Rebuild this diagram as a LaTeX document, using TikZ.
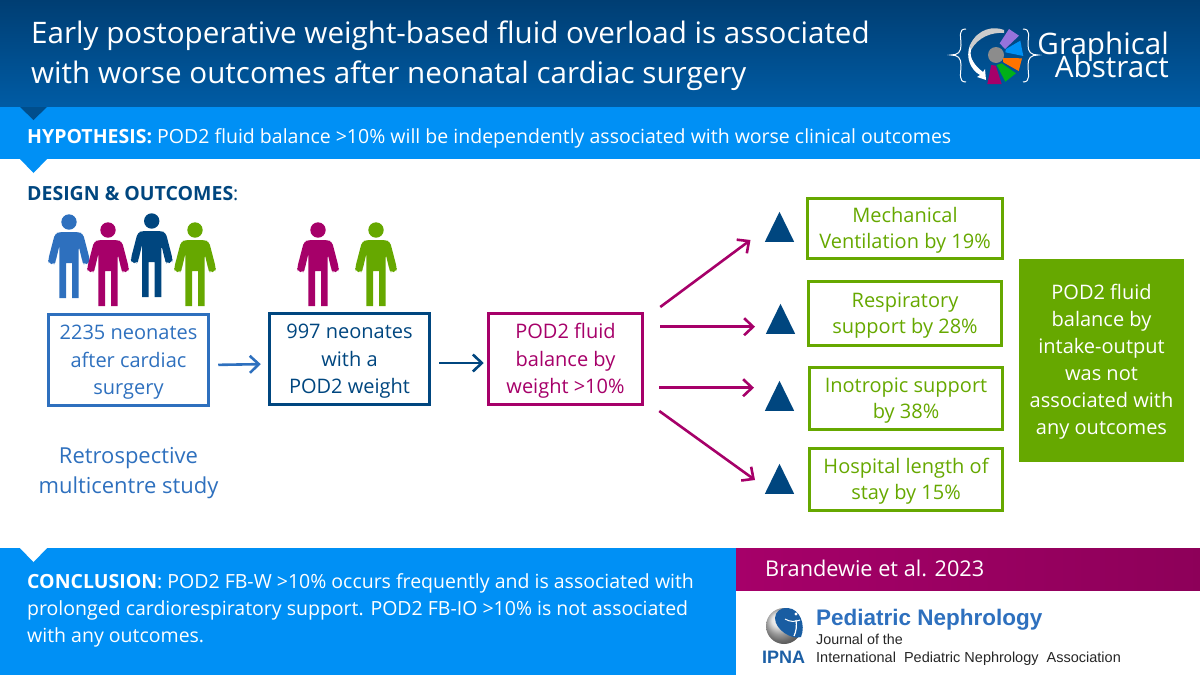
\documentclass[tikz,border=0pt]{standalone}
\usepackage{fontspec}
\setmainfont{Open Sans}
\newfontfamily\jfont{Liberation Sans}
\usetikzlibrary{shapes,arrows.meta,positioning}
\definecolor{navy}{RGB}{0, 70, 127}
\definecolor{headtop}{RGB}{0, 62, 115}
\definecolor{headlow}{RGB}{0, 92, 165}
\definecolor{skyblue}{RGB}{0, 144, 245}
\definecolor{midblue}{RGB}{46, 112, 190}
\definecolor{maroon}{RGB}{166, 0, 105}
\definecolor{leaf}{RGB}{102, 168, 0}
\newcommand{\px}[2]{\fontsize{#1}{#2}\selectfont}
\tikzstyle{bartext} = [anchor=base west, inner sep=0pt, text=white, font=\px{19.5}{27}]
\tikzstyle{stepbox} = [draw, line width=3.5pt, inner sep=0pt, align=center, font=\px{20}{27.5}, text height=74pt, text depth=5pt]
\tikzstyle{outbox} = [draw, line width=3pt, inner sep=0pt, align=center, draw=leaf, text=leaf, font=\px{20}{26.5}, text height=45pt, text depth=5pt]
\tikzstyle{rise} = [isosceles triangle, isosceles triangle apex angle=52, shape border rotate=90, fill=navy, draw=none, inner sep=0pt, minimum height=30pt, minimum width=29pt, anchor=south]
\tikzstyle{tedge} = [draw, line width=2.6pt, -{Straight Barb[length=9pt,width=17pt,line width=2.6pt]}]
\tikzstyle{fan} = [tedge, color=maroon]
\tikzset{
  person/.pic={
    \fill (0,0) circle (7.7);
    \fill[rounded corners=3.4pt] (-9,10) -- (9,10) -- (14,11.5) -- (20.9,38) -- (20.3,41.5) -- (15,42.5) -- (13.5,40)
      -- (9.7,24) [sharp corners] -- (9.7,76) -- (3,76) -- (3,41) -- (-3,41) -- (-3,76) -- (-9.7,76) -- (-9.7,24)
      [rounded corners=3.4pt] -- (-13.5,40) -- (-15,42.5) -- (-20.3,41.5) -- (-20.9,38) -- (-14,11.5) -- cycle;
  }
}
\begin{document}
\begin{tikzpicture}[x=1pt,y=-1pt]
\useasboundingbox (0,0) rectangle (1200,675);

% bands
\path[top color=headtop, bottom color=headlow, draw=none] (0,0) rectangle (1200,107);
\fill[skyblue] (0,107) rectangle (1200,159);
\fill[headlow!85!black] (20,107) -- (47,107) -- (33.5,120) -- cycle;
\fill[skyblue] (20,159) -- (47,159) -- (33.5,173) -- cycle;
\fill[skyblue] (0,548) rectangle (736,675);
\fill[white] (20,548) -- (47,548) -- (33.5,562) -- cycle;
\path[left color=maroon, right color=maroon!85!black, draw=none] (736,548) rectangle (1200,590);

% heading
\node[bartext, font=\px{29.6}{30}] (title1) at (31,43) {Early postoperative weight-based fluid overload is associated};
\node[bartext, font=\px{29.6}{30}] (title2) at (31,83) {with worse outcomes after neonatal cardiac surgery};
\node[inner sep=0pt, text=white, anchor=base east, align=right, font=\px{29.6}{31}] (logotext) at (1169,77) {Graphical\\[-8pt]Abstract};

% logo
\draw[white, line width=1pt] (966,29) .. controls (958,29) and (961,36) .. (961,45) .. controls (961,52) and (958,55) .. (951,55)
  .. controls (958,55) and (961,58) .. (961,65) .. controls (961,74) and (958,82) .. (966,82);
\draw[white, line width=1pt] (1023,29) .. controls (1031,29) and (1028,36) .. (1028,45) .. controls (1028,52) and (1031,55) .. (1038,55)
  .. controls (1031,55) and (1028,58) .. (1028,65) .. controls (1028,74) and (1031,82) .. (1023,82);
\fill[black!20] (1004,30) .. controls (994,26) and (978,28) .. (970,45) -- (971,50) .. controls (978,37) and (992,32) .. (1004,33) -- cycle;
\fill[white] (970,45) .. controls (965,58) and (971,70) .. (980,75) -- (977,77) -- (986,80) -- (985,69) -- (983,72)
  .. controls (975,66) and (969,58) .. (971,50) -- cycle;
\fill[violet!50!blue!55!white] (1009,29) -- (1019,35.7) -- (1005,49) -- (999.7,43.3) -- cycle;
\fill[skyblue] (1020.3,40.7) -- (1023.3,56) -- (1005.3,52.3) -- (1006,49) -- cycle;
\fill[orange!90!red] (1022,58.3) -- (1018.7,71) -- (1003.3,62.3) -- (1002.7,58) -- cycle;
\fill[green!65!black!90!cyan] (1016,73.3) -- (1005.3,81.7) -- (996.7,65) -- (1001.7,63.3) -- cycle;
\fill[maroon] (1001.7,84) -- (987.3,84) -- (991.3,65) -- (995.7,65.7) -- cycle;
\fill[black!45] (996,55) circle (8);

% hypothesis
\node[bartext] (hyp) at (27,143) {\textbf{HYPOTHESIS:} POD2 fluid balance >10\% will be independently associated with worse clinical outcomes};
\node[bartext, text=navy] (design) at (27,200) {\textbf{DESIGN \& OUTCOMES}:};

% people
\pic[color=midblue, fill=midblue] at (69,222) {person};
\pic[color=maroon, fill=maroon] at (108,230) {person};
\pic[color=navy, fill=navy] at (151.7,221) {person};
\pic[color=leaf, fill=leaf] at (195,230) {person};
\pic[color=maroon, fill=maroon] at (318,230) {person};
\pic[color=leaf, fill=leaf] at (376,230) {person};

% steps
\node[stepbox, draw=midblue, text=midblue, minimum width=160pt, minimum height=91pt] (total) at (128.5,360) {2235 neonates\\after cardiac\\surgery};
\node[stepbox, draw=navy, text=navy, minimum width=160pt, minimum height=91pt] (weighed) at (349.5,359) {997 neonates\\with a\\POD2 weight};
\node[stepbox, draw=maroon, text=maroon, minimum width=154pt, minimum height=91pt] (fbw) at (565.5,359) {POD2 fluid\\balance by\\weight >10\%};
\node[text=midblue, align=center, font=\px{22}{30}, inner sep=0pt] (retro) at (128.5,473.5) {Retrospective\\multicentre study};

% outcomes
\node[rise] (up1) at (779.5,242) {};
\node[rise] (up2) at (780.5,334) {};
\node[rise] (up3) at (779.5,411) {};
\node[rise] (up4) at (779.5,494) {};
\node[outbox, minimum width=195pt, minimum height=60pt] (vent) at (905,228.5) {Mechanical\\Ventilation by 19\%};
\node[outbox, minimum width=193pt, minimum height=64pt] (resp) at (905,313.5) {Respiratory\\support by 28\%};
\node[outbox, minimum width=193pt, minimum height=62pt] (ino) at (906,398.5) {Inotropic support\\by 38\%};
\node[outbox, minimum width=193pt, minimum height=62pt] (stay) at (906,479.5) {Hospital length of\\stay by 15\%};
\node[fill=leaf, text=white, align=center, font=\px{20}{27}, minimum width=165pt, minimum height=203pt, inner sep=0pt, text height=152pt, text depth=5pt] (io) at (1101.5,360.5) {POD2 fluid\\balance by\\intake-output\\was not\\associated with\\any outcomes};

%edges
\path[tedge, color=midblue, shorten <=8pt, shorten >=7pt] ([yshift=-5pt]total.east) -- ([yshift=-5pt]weighed.west);
\path[tedge, color=navy, shorten <=8pt, shorten >=3pt] ([yshift=-4pt]weighed.east) -- ([yshift=-4pt]fbw.west);

%edges outcomes
\path[fan] ([xshift=16pt,yshift=52pt]fbw.east) -- ([xshift=-29pt,yshift=2pt]up1.south);
\path[fan] ([xshift=16pt,yshift=32.3pt]fbw.east) -- ([xshift=-25.5pt,yshift=7.3pt]up2.south);
\path[fan] ([xshift=15pt,yshift=-28.7pt]fbw.east) -- ([xshift=-25.5pt,yshift=23.3pt]up3.south);
\path[fan] ([xshift=15pt,yshift=-52pt]fbw.east) -- ([xshift=-24.5pt,yshift=14pt]up4.south);

% conclusion
\node[bartext] (con1) at (27,588) {\textbf{CONCLUSION}: POD2 FB-W >10\% occurs frequently and is associated with};
\node[bartext] (con2) at (27,615) {prolonged cardiorespiratory support. POD2 FB-IO >10\% is not associated};
\node[bartext] (con3) at (27,642) {with any outcomes.};

% journal
\node[bartext, font=\px{21.7}{24}] (cite) at (765,576) {Brandewie et al. 2023};
\shade[ball color=black!15] (784,626) circle (18);
\fill[midblue!55!navy] (788,608) .. controls (800,609) and (806,625) .. (801,637) .. controls (792,640) and (775,630) .. (775,618) .. controls (775,612) and (781,607) .. (788,608) -- cycle;
\fill[white] (796,614) circle (1.6);
\draw[white, line width=1pt] (785,619) .. controls (790,622) and (795,622) .. (800,620);
\draw[white, line width=1.2pt] (796,620) .. controls (797,626) and (796,632) .. (794,636);
\node[bartext, text=midblue!60!navy, font=\jfont\bfseries\px{18}{20}] (ipna) at (762,663) {IPNA};
\node[bartext, text=midblue, font=\jfont\bfseries\px{22.5}{24}] (jname) at (816,625) {Pediatric Nephrology};
\node[bartext, text=black!85, font=\jfont\px{14.3}{16}] (jof) at (816,644) {Journal of the};
\node[bartext, text=black!85, font=\jfont\px{14.5}{16}] (jassoc) at (816,662) {International\ \ Pediatric Nephrology\ \ Association};

\end{tikzpicture}
\end{document}
